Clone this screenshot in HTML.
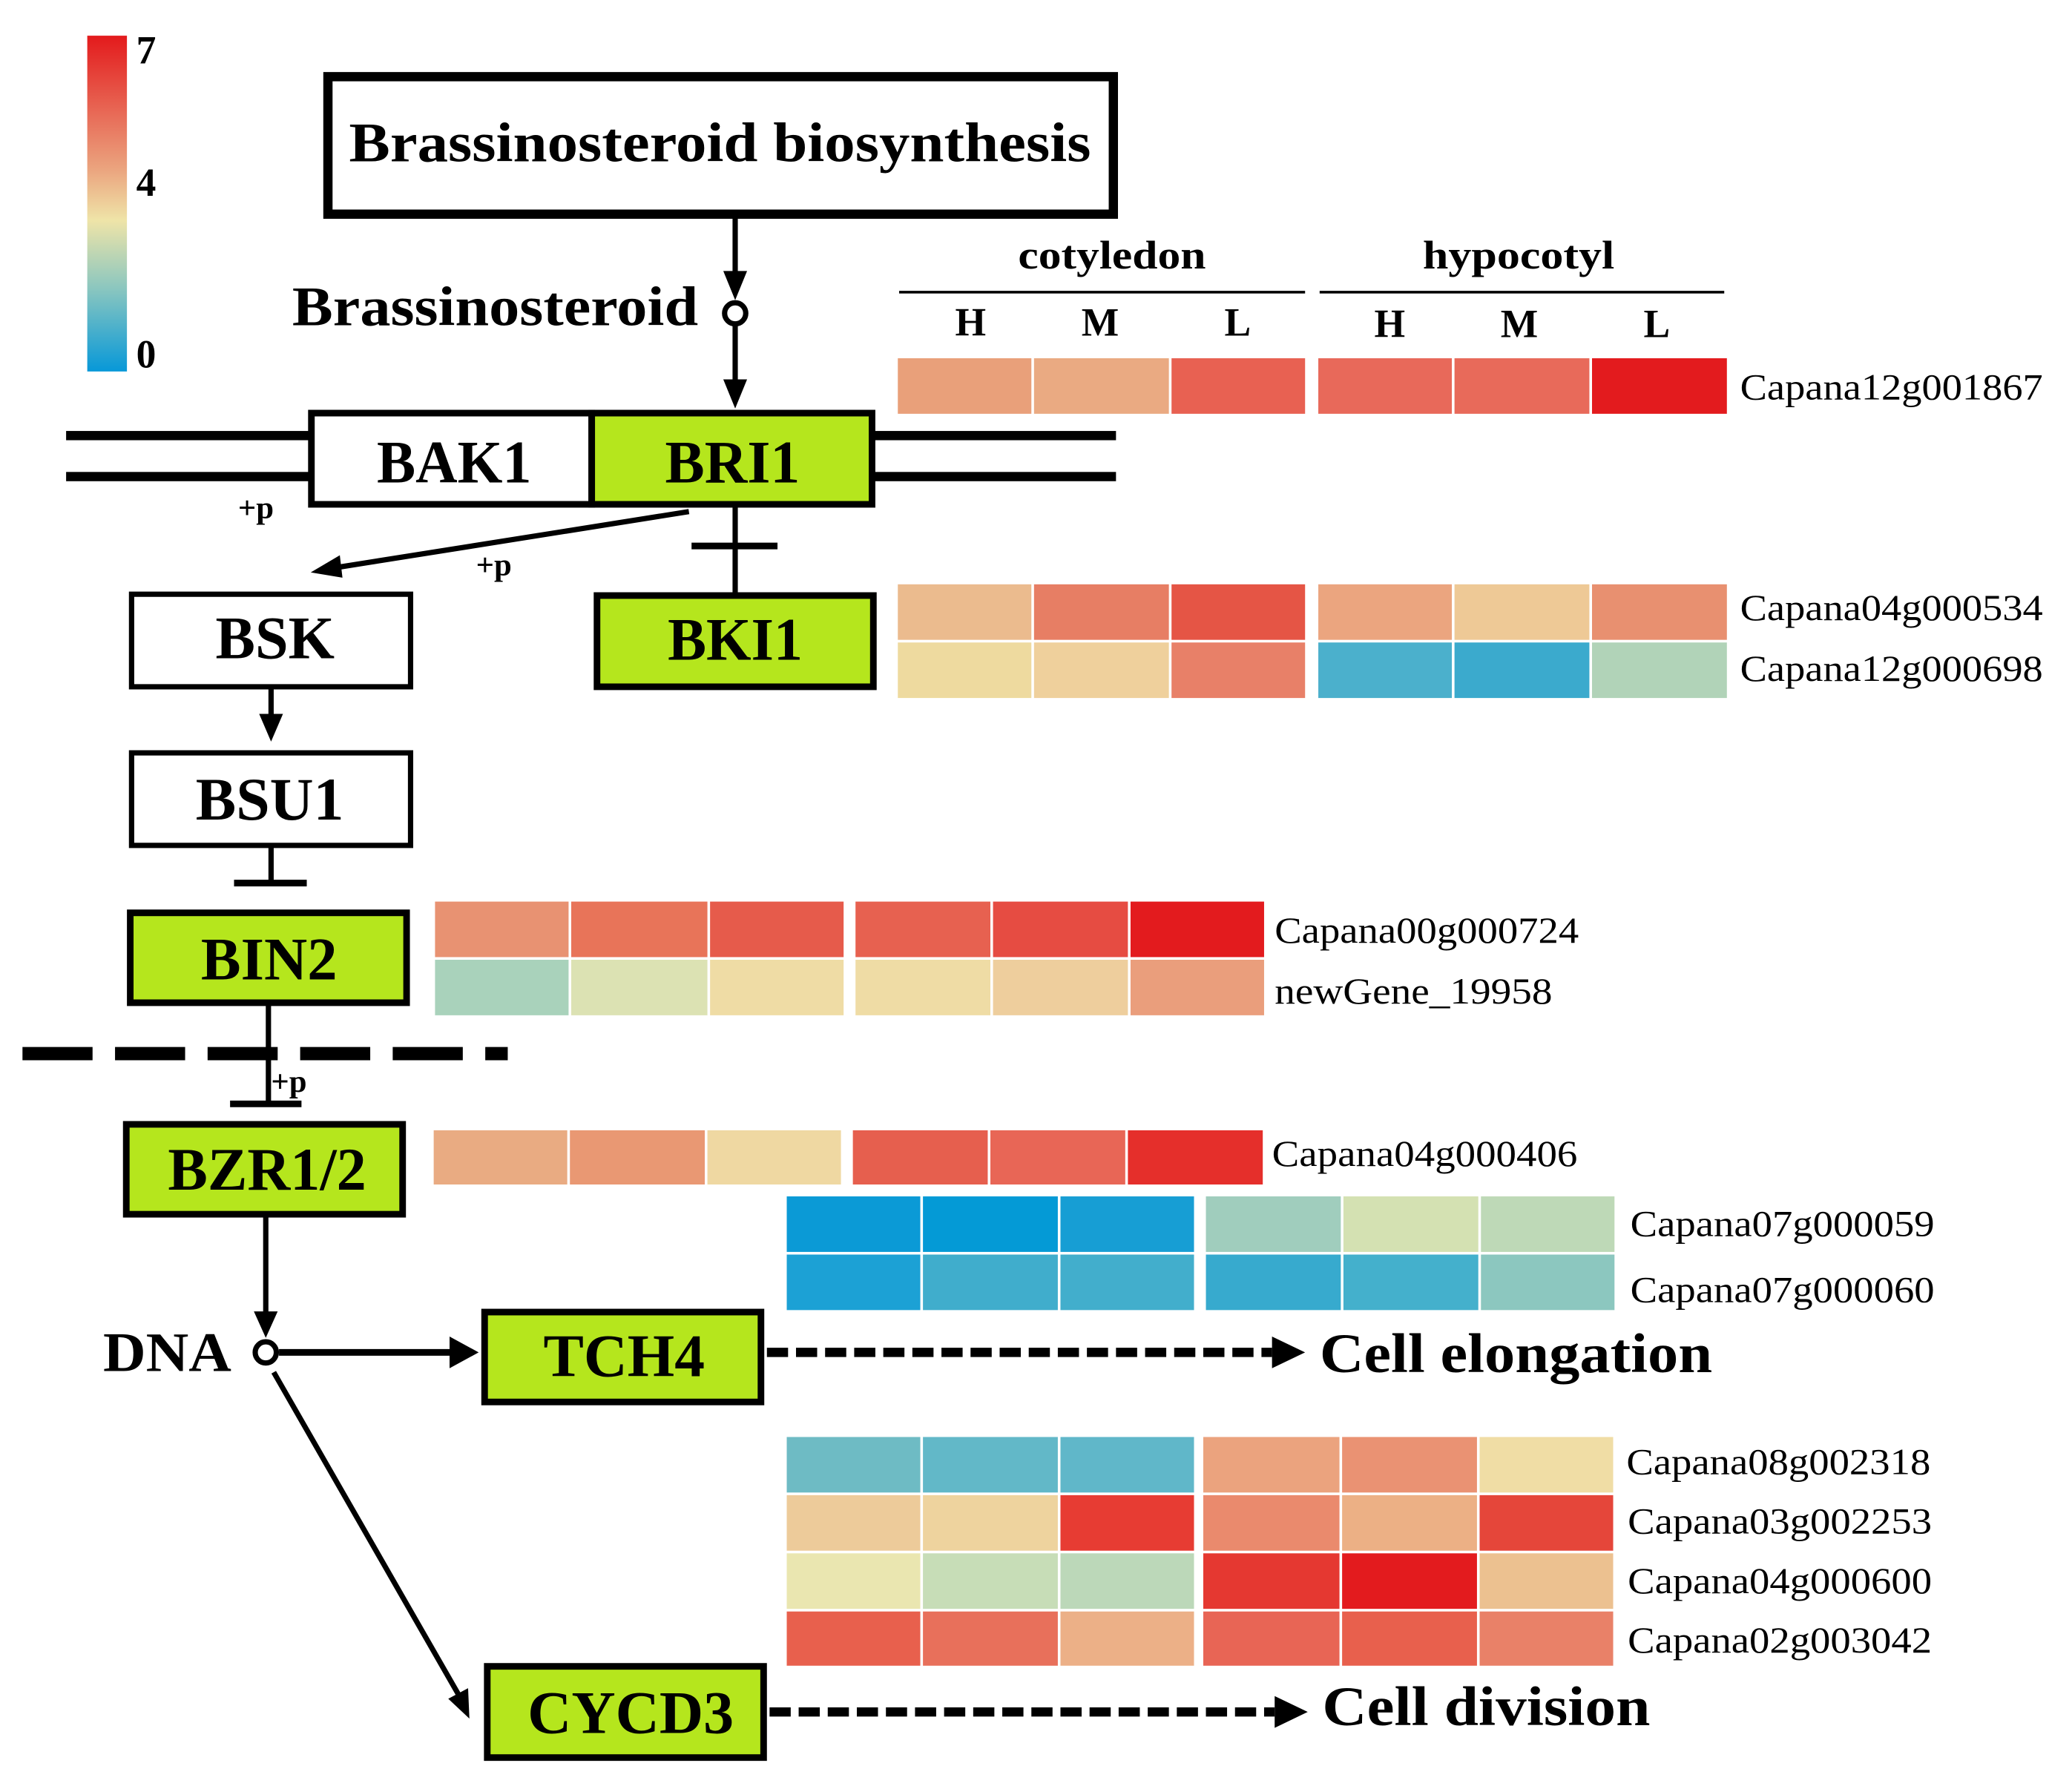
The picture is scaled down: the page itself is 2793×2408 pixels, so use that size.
<!DOCTYPE html>
<html><head><meta charset="utf-8"><style>html,body{margin:0;padding:0;background:#fff}svg{display:block}</style></head>
<body>
<svg xmlns="http://www.w3.org/2000/svg" width="2793" height="2408" viewBox="0 0 1567 1351" preserveAspectRatio="none" font-family="Liberation Serif, serif">
<defs>
<linearGradient id="cb" x1="0" y1="0" x2="0" y2="1">
<stop offset="0" stop-color="#e31a1c"/><stop offset="0.25" stop-color="#e8705b"/><stop offset="0.4" stop-color="#eba57f"/><stop offset="0.55" stop-color="#efe4a8"/><stop offset="0.75" stop-color="#8cc7bf"/><stop offset="1" stop-color="#0798d8"/>
</linearGradient>
</defs>
<rect x="66" y="27" width="30" height="254" fill="url(#cb)"/>
<g font-weight="bold" font-size="30">
<text x="103" y="48">7</text><text x="103" y="148">4</text><text x="103" y="278">0</text>
</g>
<rect x="248" y="58" width="594" height="104" fill="none" stroke="#000" stroke-width="7"/>
<text x="264" y="122" font-size="42" font-weight="bold" textLength="561" lengthAdjust="spacingAndGlyphs">Brassinosteroid biosynthesis</text>
<g stroke="#000" stroke-width="4" fill="none">
<line x1="556" y1="165" x2="556" y2="210"/>
<line x1="556" y1="246" x2="556" y2="292"/>
<circle cx="556" cy="237" r="8" stroke-width="4" fill="#fff"/>
</g>
<polygon points="547,205 565,205 556,227" fill="#000"/>
<polygon points="547,287 565,287 556,309" fill="#000"/>
<text x="221" y="246" font-size="42" font-weight="bold" textLength="307" lengthAdjust="spacingAndGlyphs">Brassinosteroid</text>
<g fill="#000">
<rect x="50" y="326" width="184" height="7"/><rect x="50" y="357" width="184" height="7"/>
<rect x="660" y="326" width="184" height="7"/><rect x="660" y="357" width="184" height="7"/>
</g>
<rect x="235.5" y="312.5" width="212" height="69" fill="#fff" stroke="#000" stroke-width="5"/>
<rect x="447.5" y="312.5" width="212" height="69" fill="#b5e61d" stroke="#000" stroke-width="5"/>
<g font-size="46" font-weight="bold">
<text x="285" y="365" textLength="117" lengthAdjust="spacingAndGlyphs">BAK1</text>
<text x="503" y="365" textLength="102" lengthAdjust="spacingAndGlyphs">BRI1</text>
</g>
<g font-size="24" font-weight="bold">
<text x="180" y="392">+p</text><text x="360" y="435">+p</text><text x="205" y="826">+p</text>
</g>
<line x1="521" y1="387" x2="250" y2="430" stroke="#000" stroke-width="4"/>
<polygon points="235,433 257,420 259,437" fill="#000"/>
<line x1="556" y1="383" x2="556" y2="448" stroke="#000" stroke-width="4"/>
<line x1="523" y1="413" x2="588" y2="413" stroke="#000" stroke-width="5"/>
<rect x="451.5" y="450.5" width="209" height="69" fill="#b5e61d" stroke="#000" stroke-width="5"/>
<text x="505" y="499" font-size="46" font-weight="bold" textLength="102" lengthAdjust="spacingAndGlyphs">BKI1</text>
<rect x="99.5" y="449.5" width="211" height="70" fill="#fff" stroke="#000" stroke-width="4"/>
<text x="163" y="498" font-size="46" font-weight="bold" textLength="90" lengthAdjust="spacingAndGlyphs">BSK</text>
<line x1="205" y1="520" x2="205" y2="545" stroke="#000" stroke-width="4"/>
<polygon points="196,540 214,540 205,561" fill="#000"/>
<rect x="99.5" y="569.5" width="211" height="70" fill="#fff" stroke="#000" stroke-width="4"/>
<text x="148" y="620" font-size="46" font-weight="bold" textLength="112" lengthAdjust="spacingAndGlyphs">BSU1</text>
<line x1="205" y1="640" x2="205" y2="668" stroke="#000" stroke-width="4"/>
<line x1="177" y1="668" x2="232" y2="668" stroke="#000" stroke-width="5"/>
<rect x="98.5" y="690.5" width="209" height="68" fill="#b5e61d" stroke="#000" stroke-width="5"/>
<text x="152" y="741" font-size="46" font-weight="bold" textLength="103" lengthAdjust="spacingAndGlyphs">BIN2</text>
<line x1="203" y1="760" x2="203" y2="835" stroke="#000" stroke-width="4"/>
<line x1="17" y1="797" x2="384" y2="797" stroke="#000" stroke-width="10" stroke-dasharray="53,17"/>
<line x1="174" y1="835" x2="228" y2="835" stroke="#000" stroke-width="5"/>
<rect x="95.5" y="850.5" width="209" height="68" fill="#b5e61d" stroke="#000" stroke-width="5"/>
<text x="127" y="900" font-size="46" font-weight="bold" textLength="150" lengthAdjust="spacingAndGlyphs">BZR1/2</text>
<line x1="201" y1="920" x2="201" y2="995" stroke="#000" stroke-width="4"/>
<polygon points="192,992 210,992 201,1012" fill="#000"/>
<circle cx="201" cy="1023" r="8" stroke="#000" stroke-width="4" fill="#fff"/>
<text x="78" y="1037" font-size="42" font-weight="bold" textLength="97" lengthAdjust="spacingAndGlyphs">DNA</text>
<line x1="211" y1="1023" x2="345" y2="1023" stroke="#000" stroke-width="5"/>
<polygon points="340,1011 362,1023 340,1035" fill="#000"/>
<line x1="207" y1="1038" x2="348" y2="1284" stroke="#000" stroke-width="4"/>
<polygon points="339,1285 354,1277 355,1300" fill="#000"/>
<rect x="366.5" y="992.5" width="209" height="68" fill="#b5e61d" stroke="#000" stroke-width="5"/>
<text x="411" y="1041" font-size="46" font-weight="bold" textLength="122" lengthAdjust="spacingAndGlyphs">TCH4</text>
<rect x="368.5" y="1260.5" width="209" height="69" fill="#b5e61d" stroke="#000" stroke-width="5"/>
<text x="399" y="1311" font-size="46" font-weight="bold" textLength="156" lengthAdjust="spacingAndGlyphs">CYCD3</text>
<line x1="580" y1="1023" x2="962" y2="1023" stroke="#000" stroke-width="7" stroke-dasharray="16,6"/>
<polygon points="962,1011 987,1023 962,1035" fill="#000"/>
<text x="998" y="1038" font-size="42" font-weight="bold" textLength="297" lengthAdjust="spacingAndGlyphs">Cell elongation</text>
<line x1="582" y1="1295" x2="964" y2="1295" stroke="#000" stroke-width="7" stroke-dasharray="16,6"/>
<polygon points="964,1283 989,1295 964,1307" fill="#000"/>
<text x="1000" y="1305" font-size="42" font-weight="bold" textLength="248" lengthAdjust="spacingAndGlyphs">Cell division</text>
<g font-weight="bold">
<text x="770" y="203" font-size="30" textLength="142" lengthAdjust="spacingAndGlyphs">cotyledon</text>
<text x="1076" y="203" font-size="30" textLength="145" lengthAdjust="spacingAndGlyphs">hypocotyl</text>
<g font-size="30" text-anchor="middle">
<text x="734" y="254">H</text><text x="832" y="254">M</text><text x="936" y="254">L</text>
<text x="1051" y="255">H</text><text x="1149" y="255">M</text><text x="1253" y="255">L</text>
</g>
</g>
<rect x="680" y="220" width="307" height="2" fill="#000"/>
<rect x="998" y="220" width="306" height="2" fill="#000"/>
<g>
<rect x="679" y="271" width="101" height="42" fill="#e9a07a"/><rect x="782" y="271" width="102" height="42" fill="#eaaa82"/><rect x="886" y="271" width="101" height="42" fill="#e86152"/>
<rect x="997" y="271" width="101" height="42" fill="#e8695a"/><rect x="1100" y="271" width="102" height="42" fill="#e86a5a"/><rect x="1204" y="271" width="102" height="42" fill="#e31b1e"/>
<rect x="679" y="442" width="101" height="42" fill="#ebbb8e"/><rect x="782" y="442" width="102" height="42" fill="#e77e64"/><rect x="886" y="442" width="101" height="42" fill="#e55545"/>
<rect x="997" y="442" width="101" height="42" fill="#eba57f"/><rect x="1100" y="442" width="102" height="42" fill="#eec996"/><rect x="1204" y="442" width="102" height="42" fill="#e89070"/>
<rect x="679" y="486" width="101" height="42" fill="#eeda9f"/><rect x="782" y="486" width="102" height="42" fill="#efd09c"/><rect x="886" y="486" width="101" height="42" fill="#e88068"/>
<rect x="997" y="486" width="101" height="42" fill="#4bb0cc"/><rect x="1100" y="486" width="102" height="42" fill="#3baacd"/><rect x="1204" y="486" width="102" height="42" fill="#b1d3b8"/>
<rect x="329" y="682" width="101" height="42" fill="#e89272"/><rect x="432" y="682" width="103" height="42" fill="#e87459"/><rect x="537" y="682" width="101" height="42" fill="#e65b4b"/>
<rect x="647" y="682" width="102" height="42" fill="#e76150"/><rect x="751" y="682" width="102" height="42" fill="#e64c42"/><rect x="855" y="682" width="101" height="42" fill="#e31b1e"/>
<rect x="329" y="726" width="101" height="42" fill="#a9d2bb"/><rect x="432" y="726" width="103" height="42" fill="#dce2b3"/><rect x="537" y="726" width="101" height="42" fill="#efdca5"/>
<rect x="647" y="726" width="102" height="42" fill="#efdca5"/><rect x="751" y="726" width="102" height="42" fill="#eece9d"/><rect x="855" y="726" width="101" height="42" fill="#ea9e7c"/>
<rect x="328" y="855" width="101" height="41" fill="#e9ab82"/><rect x="431" y="855" width="102" height="41" fill="#e99873"/><rect x="535" y="855" width="101" height="41" fill="#efd8a2"/>
<rect x="645" y="855" width="102" height="41" fill="#e65f4e"/><rect x="749" y="855" width="102" height="41" fill="#e86656"/><rect x="853" y="855" width="102" height="41" fill="#e52f2b"/>
<rect x="595" y="905" width="101" height="42" fill="#0b9ad6"/><rect x="698" y="905" width="102" height="42" fill="#049ad6"/><rect x="802" y="905" width="101" height="42" fill="#179ed4"/>
<rect x="912" y="905" width="102" height="42" fill="#a0cdbd"/><rect x="1016" y="905" width="102" height="42" fill="#d4e1b2"/><rect x="1120" y="905" width="101" height="42" fill="#bed9b7"/>
<rect x="595" y="949" width="101" height="42" fill="#1ca1d5"/><rect x="698" y="949" width="102" height="42" fill="#40adcc"/><rect x="802" y="949" width="101" height="42" fill="#42aecc"/>
<rect x="912" y="949" width="102" height="42" fill="#37aace"/><rect x="1016" y="949" width="102" height="42" fill="#44b0cc"/><rect x="1120" y="949" width="101" height="42" fill="#8cc7bf"/>
<rect x="595" y="1087" width="101" height="42" fill="#6ebbc4"/><rect x="698" y="1087" width="102" height="42" fill="#62b8c8"/><rect x="802" y="1087" width="101" height="42" fill="#60b7c9"/>
<rect x="910" y="1087" width="103" height="42" fill="#eba37e"/><rect x="1015" y="1087" width="102" height="42" fill="#ea9273"/><rect x="1119" y="1087" width="101" height="42" fill="#f0dda5"/>
<rect x="595" y="1131" width="101" height="42" fill="#edcb9a"/><rect x="698" y="1131" width="102" height="42" fill="#eed39e"/><rect x="802" y="1131" width="101" height="42" fill="#e73c33"/>
<rect x="910" y="1131" width="103" height="42" fill="#ea8a6d"/><rect x="1015" y="1131" width="102" height="42" fill="#ecb085"/><rect x="1119" y="1131" width="101" height="42" fill="#e5463a"/>
<rect x="595" y="1175" width="101" height="42" fill="#eae6b0"/><rect x="698" y="1175" width="102" height="42" fill="#c7ddb7"/><rect x="802" y="1175" width="101" height="42" fill="#bcd8b9"/>
<rect x="910" y="1175" width="103" height="42" fill="#e53831"/><rect x="1015" y="1175" width="102" height="42" fill="#e31b1e"/><rect x="1119" y="1175" width="101" height="42" fill="#ecc190"/>
<rect x="595" y="1219" width="101" height="41" fill="#e8604d"/><rect x="698" y="1219" width="102" height="41" fill="#e8705b"/><rect x="802" y="1219" width="101" height="41" fill="#ecb087"/>
<rect x="910" y="1219" width="103" height="41" fill="#e86555"/><rect x="1015" y="1219" width="102" height="41" fill="#e8604d"/><rect x="1119" y="1219" width="101" height="41" fill="#e98168"/>
</g>
<g font-size="28">
<text x="1316" y="302" textLength="229" lengthAdjust="spacingAndGlyphs">Capana12g001867</text>
<text x="1316" y="469" textLength="229" lengthAdjust="spacingAndGlyphs">Capana04g000534</text>
<text x="1316" y="515" textLength="229" lengthAdjust="spacingAndGlyphs">Capana12g000698</text>
<text x="964" y="713" textLength="230" lengthAdjust="spacingAndGlyphs">Capana00g000724</text>
<text x="964" y="759" textLength="210" lengthAdjust="spacingAndGlyphs">newGene_19958</text>
<text x="962" y="882" textLength="231" lengthAdjust="spacingAndGlyphs">Capana04g000406</text>
<text x="1233" y="935" textLength="230" lengthAdjust="spacingAndGlyphs">Capana07g000059</text>
<text x="1233" y="985" textLength="230" lengthAdjust="spacingAndGlyphs">Capana07g000060</text>
<text x="1230" y="1115" textLength="230" lengthAdjust="spacingAndGlyphs">Capana08g002318</text>
<text x="1231" y="1160" textLength="230" lengthAdjust="spacingAndGlyphs">Capana03g002253</text>
<text x="1231" y="1205" textLength="230" lengthAdjust="spacingAndGlyphs">Capana04g000600</text>
<text x="1231" y="1250" textLength="230" lengthAdjust="spacingAndGlyphs">Capana02g003042</text>
</g>
</svg>
</body></html>
